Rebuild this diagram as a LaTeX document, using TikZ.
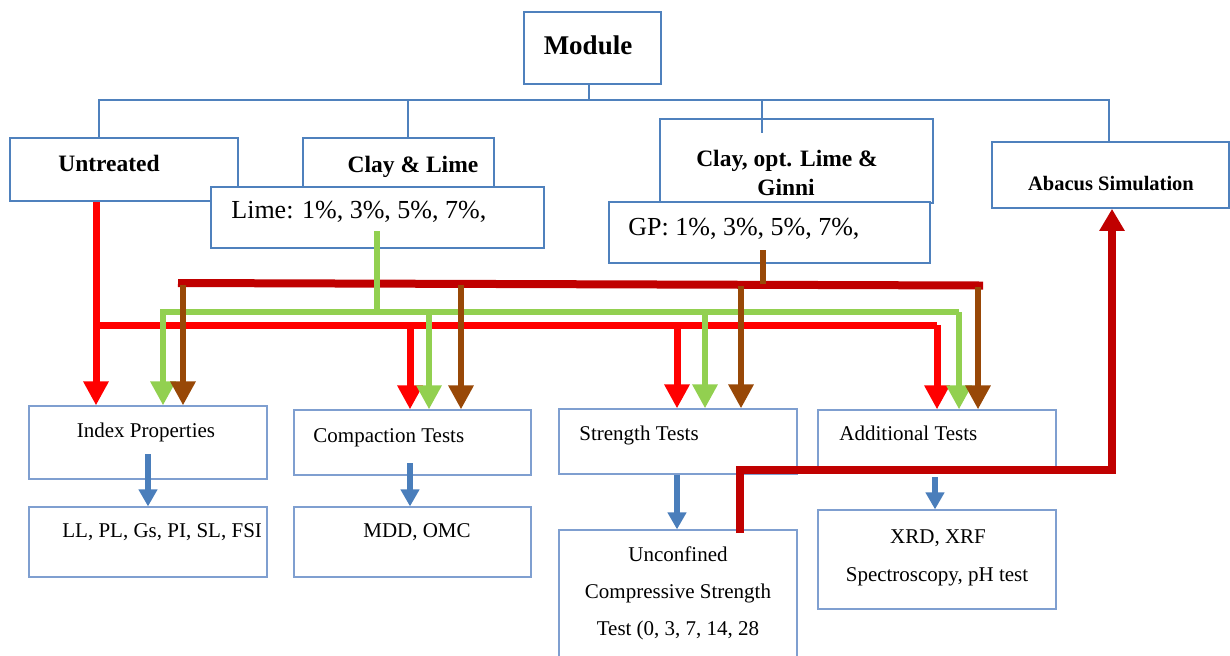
\documentclass[tikz,border=0pt]{standalone}
\usepackage{fontspec}
\setmainfont{Liberation Serif}
\usetikzlibrary{arrows.meta,fit}
\definecolor{boxblue}{HTML}{4F81BD}
\definecolor{lightblue}{HTML}{7F9FD0}
\definecolor{myred}{HTML}{FF0000}
\definecolor{mygreen}{HTML}{92D050}
\definecolor{mybrown}{HTML}{984807}
\definecolor{mydarkred}{HTML}{C00000}
\definecolor{arrowblue}{HTML}{4A7EBB}
\newcommand\fmodule{\fontsize{13.5}{16}\selectfont\bfseries}
\newcommand\fhead{\fontsize{11.75}{14}\selectfont\bfseries}
\newcommand\fabacus{\fontsize{10.25}{12}\selectfont\bfseries}
\newcommand\fpct{\fontsize{13}{15}\selectfont}
\newcommand\fbody{\fontsize{10.5}{12.5}\selectfont}
\begin{document}
\begin{tikzpicture}[x=0.5pt,y=-0.5pt,
  topbox/.style={draw=boxblue,line width=0.85pt,fill=white,inner sep=0pt},
  botbox/.style={draw=lightblue,line width=0.6pt,fill=white,inner sep=0pt},
  conn/.style={draw=boxblue,line width=1pt},
  txt/.style={inner sep=0pt,anchor=base},
  txtw/.style={inner sep=0pt,anchor=base west},
  bigtip/.style={-{Triangle[width=12pt,length=12pt]}},
  redl/.style={draw=myred,line width=3.5pt},
  greenl/.style={draw=mygreen,line width=3pt},
  brownl/.style={draw=mybrown,line width=3.25pt},
  darkredl/.style={draw=mydarkred,line width=4pt},
  bluearrow/.style={draw=arrowblue,line width=3pt,-{Triangle[width=9pt,length=8.5pt]}}]
\useasboundingbox (0,0) rectangle (1230,655);
\clip (0,0) rectangle (1230,655);

% top level boxes
\node[topbox,fit={(524,12) (661,84)}] (module) {};
\node[topbox,fit={(10,138) (238,201)}] (untreated) {};
\node[topbox,fit={(303,138) (494,187)}] (claylime) {};
\node[topbox,fit={(660,119) (933,203)}] (clayopt) {};
\node[topbox,fit={(992,142) (1229,208)}] (abacus) {};
\node[topbox,fit={(211,187) (544,248)}] (limebox) {};
\node[topbox,fit={(609,202) (930,263)}] (gpbox) {};

\node[txt] (moduleT) at (588,54) {\fmodule Module};
\node[txt] (untreatedT) at (109,171) {\fhead Untreated};
\node[txt] (claylimeT) at (413,172) {\fhead Clay \& Lime};
\node[txt] (clayoptT) at (787,166) {\fhead Clay, opt. Lime \&};
\node[txt] (clayoptT2) at (786,195) {\fhead Ginni};
\node[txt] (abacusT) at (1111,190) {\fabacus Abacus Simulation};
\node[txtw] (limeT) at (231,218) {\fpct Lime: 1\%, 3\%, 5\%, 7\%,};
\node[txtw] (gpT) at (628,235) {\fpct GP: 1\%, 3\%, 5\%, 7\%,};

% hierarchy connectors
\coordinate (hbus) at (589,100);
\coordinate (clayoptin) at (762,133);
\draw[conn] (hbus |- module.south) -- (hbus);
\draw[conn] (untreated.north -| 99,0) -- (99,100) -- (1109,100) -- (abacus.north -| 1109,0);
\draw[conn] (408,100) -- (claylime.north -| 408,0);
\draw[conn] (762,100) -- (clayoptin);

% bottom boxes
\node[botbox,fit={(29,406) (267,479)}] (index) {};
\node[botbox,fit={(29,507) (267,577)}] (llbox) {};
\node[botbox,fit={(294,410) (531,475)}] (compaction) {};
\node[botbox,fit={(294,507) (531,577)}] (mddbox) {};
\node[botbox,fit={(559,409) (797,474)}] (strength) {};
\node[botbox,fit={(559,530) (797,690)}] (ucs) {};
\node[botbox,fit={(818,410) (1056,468)}] (additional) {};
\node[botbox,fit={(818,510) (1056,609)}] (xrdbox) {};

\node[txt] (indexT) at (146,437) {\fbody Index Properties};
\node[txtw] (llT) at (62,537) {\fbody LL, PL, Gs, PI, SL, FSI};
\node[txtw] (compactionT) at (313,442) {\fbody Compaction Tests};
\node[txt] (mddT) at (417,537) {\fbody MDD, OMC};
\node[txtw] (strengthT) at (579,440) {\fbody Strength Tests};
\node[txt] (ucsT1) at (678,561) {\fbody Unconfined};
\node[txt] (ucsT2) at (678,598) {\fbody Compressive Strength};
\node[txt] (ucsT3) at (678,635) {\fbody Test (0, 3, 7, 14, 28};
\node[txtw] (additionalT) at (839,440) {\fbody Additional Tests};
\node[txt] (xrdT1) at (938,543) {\fbody XRD, XRF};
\node[txt] (xrdT2) at (937,581) {\fbody Spectroscopy, pH test};

% dark red bus (GP)
\coordinate (drL) at (178,283);
\coordinate (drR) at (983,285.5);
\draw[darkredl] (drL) -- (drR);

% red (untreated)
\coordinate (redbus) at (96,325);
\draw[redl,bigtip] (untreated.south -| 96,0) -- (index.north -| 96,0);
\draw[redl] (redbus) -- (937,325);
\draw[redl,bigtip] (410,325) -- (compaction.north -| 410,0);
\draw[redl,bigtip] (677,325) -- (strength.north -| 677,0);
\draw[redl,bigtip] (937,325) -- (additional.north -| 937,0);

% green (lime)
\coordinate (gsrc) at (377,231);
\draw[greenl] (gsrc) -- (377,312);
\draw[greenl,bigtip] (959,312) -- (163,312) -- (index.north -| 163,0);
\draw[greenl,bigtip] (959,312) -- (additional.north -| 959,0);
\draw[greenl,bigtip] (429,312) -- (compaction.north -| 429,0);
\draw[greenl,bigtip] (705,312) -- (strength.north -| 705,0);

% brown (GP)
\coordinate (bsrc) at (763,250);
\draw[brownl] (bsrc) -- (763,284);
\draw[brownl,bigtip] (183,285) -- (index.north -| 183,0);
\draw[brownl,bigtip] (461,285) -- (compaction.north -| 461,0);
\draw[brownl,bigtip] (741,286) -- (strength.north -| 741,0);
\draw[brownl,bigtip] (978,287) -- (additional.north -| 978,0);

% blue arrows
\draw[bluearrow] (148,454) -- (llbox.north -| 148,0);
\draw[bluearrow] (410,463) -- (mddbox.north -| 410,0);
\draw[bluearrow] (strength.south -| 677,0) -- (ucs.north -| 677,0);
\draw[bluearrow] (935,477) -- (xrdbox.north -| 935,0);

% dark red to abacus
\coordinate (absrc) at (740,533);
\draw[darkredl,-{Triangle[width=12pt,length=11pt]}] (absrc) -- (740,470) -- (1112,470) -- (abacus.south -| 1112,0);
\end{tikzpicture}
\end{document}
